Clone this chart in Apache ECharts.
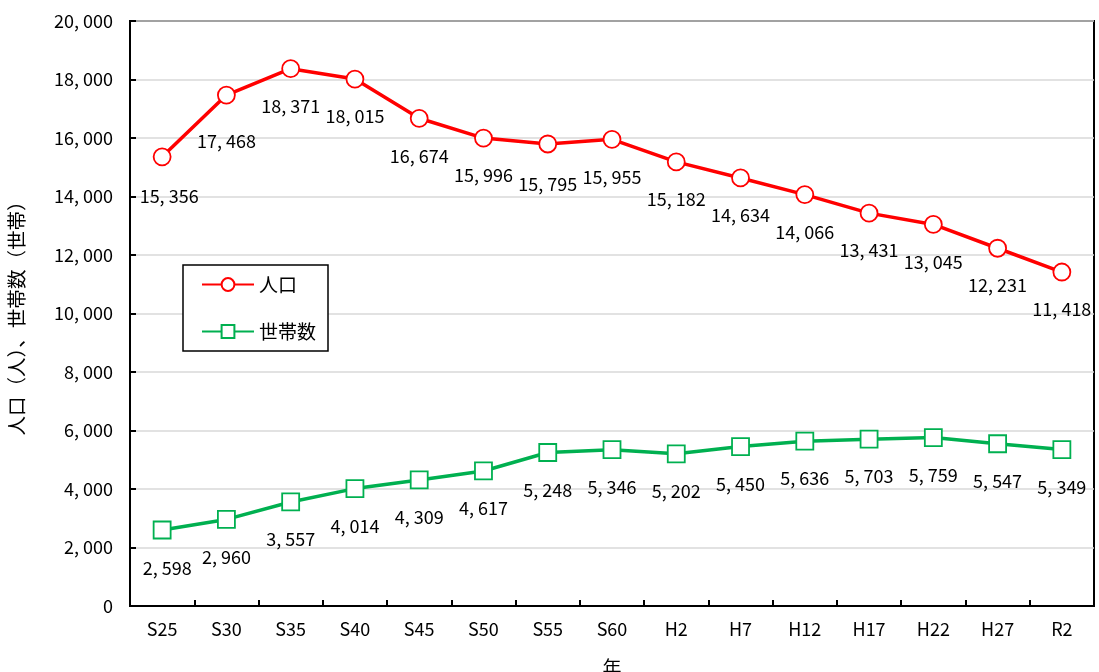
<!DOCTYPE html>
<html>
<head>
<meta charset="utf-8">
<script src="https://cdn.jsdelivr.net/npm/echarts@6/dist/echarts.min.js"></script>
<style>
  html, body { margin: 0; padding: 0; background: #fff; }
  #chart { width: 1099px; height: 672px; }
</style>
</head>
<body>
<div id="chart"></div>
<script>
// 年次（国勢調査）
const years = ['S25', 'S30', 'S35', 'S40', 'S45', 'S50', 'S55', 'S60', 'H2', 'H7', 'H12', 'H17', 'H22', 'H27', 'R2'];
// 人口（人）
const population = [15356, 17468, 18371, 18015, 16674, 15996, 15795, 15955, 15182, 14634, 14066, 13431, 13045, 12231, 11418];
// 世帯数（世帯）
const households = [2598, 2960, 3557, 4014, 4309, 4617, 5248, 5346, 5202, 5450, 5636, 5703, 5759, 5547, 5349];

const FONT = '"Noto Sans CJK JP", sans-serif';

// a few value labels nudged so they don't collide with the line
const popLabelNudge = { 0: [7, 2], 1: [0, 9], 6: [0, 3] };
const hhLabelNudge = { 0: [5, 1] };

function fmt(v) {
  const s = String(v);
  return s.length > 3 ? s.slice(0, -3) + ', ' + s.slice(-3) : s;
}

const chart = echarts.init(document.getElementById('chart'), null, { renderer: 'canvas' });

function lineSeries(name, values, color, symbol, nudge) {
  return {
    name: name,
    type: 'line',
    data: values.map((v, i) => nudge[i] ? { value: v, label: { offset: nudge[i] } } : v),
    symbol: symbol,
    symbolSize: 17,
    showAllSymbol: true,
    lineStyle: { color: color, width: 3.5 },
    itemStyle: { color: '#ffffff', borderColor: color, borderWidth: 1.8 },
    label: {
      show: true,
      position: 'bottom',
      distance: 19,
      formatter: p => fmt(p.value),
      color: '#000',
      fontFamily: FONT,
      fontSize: 18
    },
    emphasis: { disabled: true },
    animation: false
  };
}

chart.setOption({
  backgroundColor: '#ffffff',
  animation: false,
  grid: {
    left: 130, right: 5, top: 21, bottom: 66,
    outerBoundsMode: 'none',
    containLabel: false,
    show: true, borderColor: '#000', borderWidth: 2, backgroundColor: 'transparent'
  },
  legend: {
    data: ['人口', '世帯数'],
    orient: 'vertical',
    left: 183, top: 265,
    padding: [10, 12, 10, 18],
    itemGap: 28,
    itemWidth: 52,
    itemHeight: 16,
    backgroundColor: '#ffffff',
    borderColor: '#000',
    borderWidth: 1.5,
    borderRadius: 0,
    textStyle: { fontFamily: FONT, fontSize: 19, color: '#000', padding: [0, 0, 0, 0] }
  },
  xAxis: {
    type: 'category',
    data: years,
    boundaryGap: true,
    name: '年',
    nameLocation: 'middle',
    nameGap: 52,
    nameTextStyle: { fontFamily: FONT, fontSize: 19, color: '#000' },
    axisLine: { lineStyle: { color: '#000', width: 2 } },
    axisTick: { show: true, inside: true, length: 6, lineStyle: { color: '#000', width: 2 } },
    axisLabel: { fontFamily: FONT, fontSize: 18, color: '#000', margin: 14 },
    splitLine: { show: false }
  },
  yAxis: {
    type: 'value',
    min: 0, max: 20000, interval: 2000,
    name: '人口（人）、世帯数（世帯）',
    nameLocation: 'middle',
    nameRotate: 90,
    nameGap: 104,
    nameTextStyle: { fontFamily: FONT, fontSize: 19.5, color: '#000' },
    axisLine: { show: true, lineStyle: { color: '#000', width: 2 } },
    axisTick: { show: true, inside: true, length: 6, lineStyle: { color: '#000', width: 2 } },
    axisLabel: { fontFamily: FONT, fontSize: 18, color: '#000', margin: 17, formatter: v => fmt(v) },
    splitLine: { show: true, lineStyle: { color: '#d9d9d9', width: 1.5 } }
  },
  series: [
    lineSeries('人口', population, '#ff0000', 'circle', popLabelNudge),
    lineSeries('世帯数', households, '#00b050', 'rect', hhLabelNudge)
  ]
});
</script>
</body>
</html>
